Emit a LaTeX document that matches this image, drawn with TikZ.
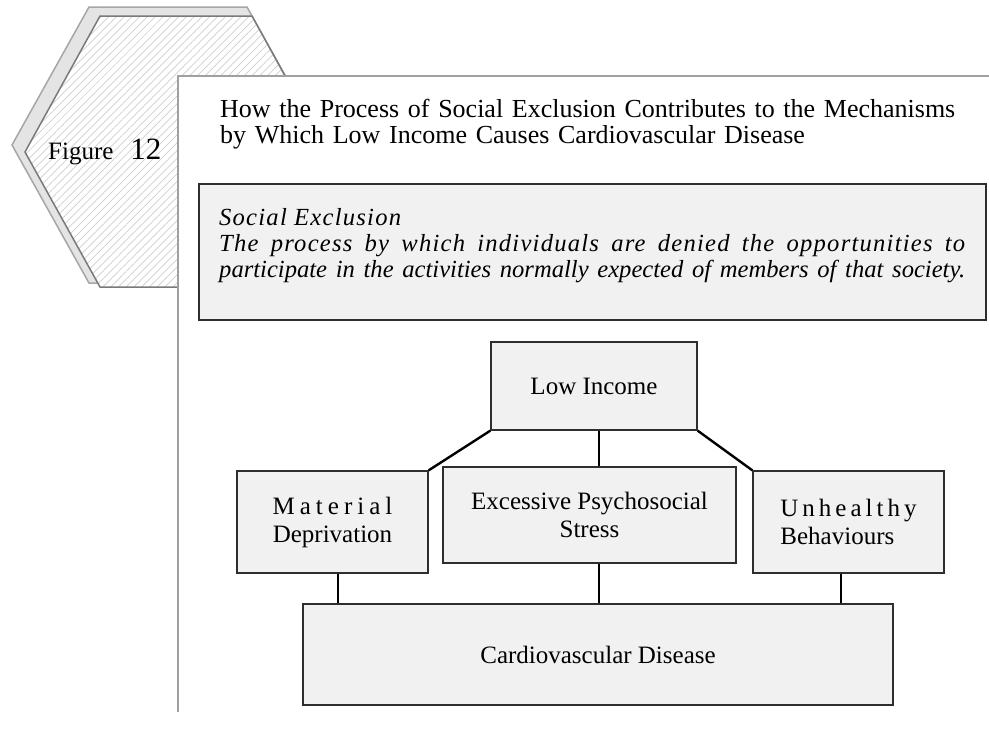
\documentclass[tikz,border=0pt]{standalone}
\usepackage{fontspec}
\setmainfont{Liberation Serif}
\usetikzlibrary{patterns.meta,calc}
\definecolor{boxfill}{HTML}{F1F1F1}
\definecolor{boxline}{HTML}{2E2E2E}
\definecolor{hexback}{HTML}{E4E4E4}
\definecolor{hexbackline}{HTML}{A6A6A6}
\definecolor{hexline}{HTML}{7A7A7A}
\definecolor{hatchcol}{HTML}{CFCFCF}
\definecolor{panelline}{HTML}{A0A0A0}
\begin{document}
\begin{tikzpicture}[x=1pt,y=-1pt,
  cbox/.style={draw=boxline, line width=1.3pt, fill=boxfill, inner sep=0pt, align=center, font=\fontsize{25}{28}\selectfont},
  conn/.style={draw=black, line width=2.4pt}]
\useasboundingbox (0,0) rectangle (989,732);
% hexagon tab
\draw[fill=hexback, draw=hexbackline, line width=1.5pt] (12,145) -- (89,7) -- (247,7) -- (324,145) -- (247,283) -- (89,283) -- cycle;
\draw[draw=hexline, line width=1.5pt, preaction={fill=white}, pattern={Lines[angle=45,distance=5.5pt,line width=0.7pt]}, pattern color=hatchcol] (25,152) -- (100,16) -- (252,16) -- (327,152) -- (252,287) -- (100,287) -- cycle;
% panel
\fill[white] (178,76) rectangle (989,732);
\draw[panelline, line width=1.3pt] (178,712) -- (178,76) -- (989,76);
% figure label
\node[anchor=base west, inner sep=0pt] (fig) at (48,159) {\fontsize{25}{30}\selectfont Figure\hspace{17pt}\fontsize{31}{30}\selectfont 12};
% title
\node[anchor=base west, inner sep=0pt, text width=770pt, align=left, font=\fontsize{26}{26}\selectfont] (title) at (220,117)
  {How the Process of Social Exclusion Contributes to the Mechanisms\\by Which Low Income Causes Cardiovascular Disease};
% social exclusion box
\node[cbox, minimum width=787pt, minimum height=136pt] (se) at (592.5,252) {};
\node[anchor=base west, inner sep=0pt, text width=746pt, align=justify, font=\fontsize{24.6}{26}\selectfont\itshape] (setext) at (219,225)
  {\parfillskip=0pt {\addfontfeature{LetterSpace=5}Social Exclusion}\hfill\null\linebreak
   {\addfontfeature{LetterSpace=5}The process by which individuals are denied the opportunities to}\linebreak
   participate in the activities normally expected of members of that society.\par};
% boxes
\node[cbox, minimum width=206pt, minimum height=88pt] (li) at (594,386) {Low Income};
\node[cbox, minimum width=191pt, minimum height=102pt] (md) at (332.5,522) {{\addfontfeature{LetterSpace=20}Material}\\Deprivation};
\node[cbox, minimum width=293pt, minimum height=96pt] (st) at (589.5,515) {Excessive Psychosocial\\Stress};
\node[cbox, minimum width=191pt, minimum height=102pt, align=left] (ub) at (848.5,522) {{\addfontfeature{LetterSpace=16}Unhealthy}\\Behaviours};
\node[cbox, minimum width=590pt, minimum height=101pt] (cvd) at (598,654.5) {Cardiovascular Disease};
% connectors
\draw[conn] (li.south west) -- (md.north east);
\draw[conn] ([xshift=5pt]li.south) -- ([xshift=5pt]li.south |- st.north);
\draw[conn] (li.south east) -- (ub.north west);
\draw[conn] ([xshift=5.5pt]md.south) -- ([xshift=5.5pt]md.south |- cvd.north);
\draw[conn] ([xshift=9.5pt]st.south) -- ([xshift=9.5pt]st.south |- cvd.north);
\draw[conn] ([xshift=-7.5pt]ub.south) -- ([xshift=-7.5pt]ub.south |- cvd.north);
\end{tikzpicture}
\end{document}
